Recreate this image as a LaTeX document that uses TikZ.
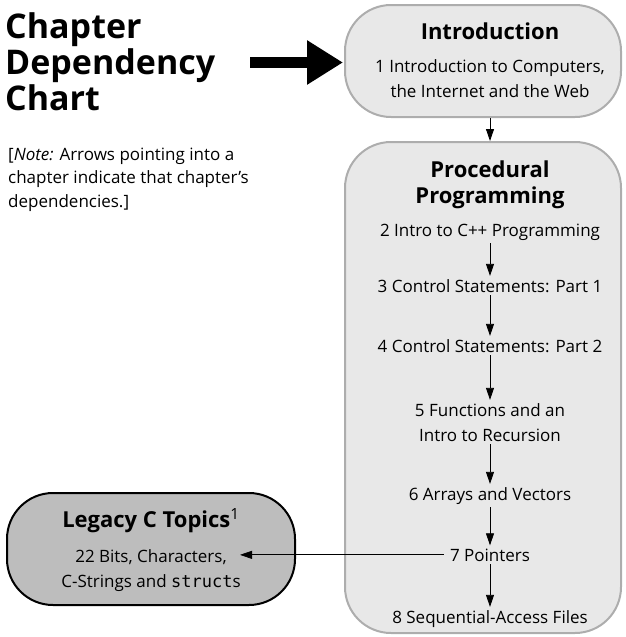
\documentclass[tikz,border=0pt]{standalone}
\usepackage{fontspec}
\setmainfont{Open Sans}
\setmonofont{DejaVu Sans Mono}
\usetikzlibrary{arrows.meta}
\definecolor{boxfill}{HTML}{E8E8E8}
\definecolor{boxline}{HTML}{ADADAD}
\definecolor{legfill}{HTML}{BDBDBD}
\begin{document}
\begin{tikzpicture}[x=1pt,y=-1pt,
  lightbox/.style={draw=boxline, fill=boxfill, line width=2pt, rounded corners=46pt, inner sep=0pt},
  darkbox/.style={draw=black, fill=legfill, line width=2pt, rounded corners=46pt, inner sep=0pt},
  chap/.style={font=\fontsize{17}{25}\selectfont, inner sep=3pt, align=center, anchor=base},
  head/.style={font=\bfseries\fontsize{22}{26}\selectfont, inner sep=0pt, align=center, anchor=base},
  arr/.style={draw=black, line width=0.8pt, -{Triangle[length=12pt,width=8pt]}},
  bigarr/.style={draw=black, line width=11pt, -{Triangle[length=36pt,width=42pt]}}
]
\useasboundingbox (0,0) rectangle (625,637);

% title and note (base anchor = baseline of the last line)
\node[font=\bfseries\fontsize{34}{36}\selectfont, align=left, anchor=base west, inner sep=0pt] (title) at (5,110) {Chapter\\Dependency\\Chart};
\node[font=\fontsize{17}{23.5}\selectfont, align=left, anchor=base west, inner sep=0pt] (note) at (8,207)
  {[\textit{Note:} Arrows pointing into a\\chapter indicate that chapter's\\dependencies.]};

% boxes
\node[lightbox, minimum width=276pt, minimum height=112pt] (intro) at (483,61) {};
\node[lightbox, minimum width=276pt, minimum height=491pt] (proc) at (483,387.5) {};
\node[darkbox, minimum width=288pt, minimum height=112pt] (legacy) at (151,549) {};

% big arrow
\coordinate (bigstart) at (250,62.5);
\draw[bigarr, shorten >=1pt] (bigstart) -- (bigstart -| intro.west);

% introduction box text
\node[head] (introhead) at (490,39) {Introduction};
\node[chap] (c1) at (490,97) {1 Introduction to Computers,\\the Internet and the Web};

% procedural box text
\node[head] (prochead) at (490,203) {Procedural\\Programming};
\node[chap] (c2) at (490,236) {2 Intro to C++ Programming};
\node[chap] (c3) at (490,292) {3 Control Statements: Part 1};
\node[chap] (c4) at (490,352) {4 Control Statements: Part 2};
\node[chap] (c5) at (490,441) {5 Functions and an\\Intro to Recursion};
\node[chap] (c6) at (490,500) {6 Arrays and Vectors};
\node[chap] (c7) at (490,561) {7 Pointers};
\node[chap] (c8) at (490,623) {8 Sequential-Access Files};

% legacy box text
\node[head] (leghead) at (151,527) {Legacy C Topics\textsuperscript{\mdseries 1}};
\node[chap] (c22) at (151,587) {22 Bits, Characters,\\C-Strings and \texttt{struct}s};

% connectors
\draw[arr] (intro.south -| c2) -- (proc.north -| c2);
\draw[arr] (c2) -- (c3);
\draw[arr] (c3) -- (c4);
\draw[arr] (c4) -- (c5);
\draw[arr] (c5) -- (c6);
\draw[arr] (c6) -- (c7);
\draw[arr] (c7) -- (c8);
\coordinate (tip22) at (240,0);
\draw[arr, shorten <=3pt] (c7.west) -- (tip22 |- c7.west);
\end{tikzpicture}
\end{document}
